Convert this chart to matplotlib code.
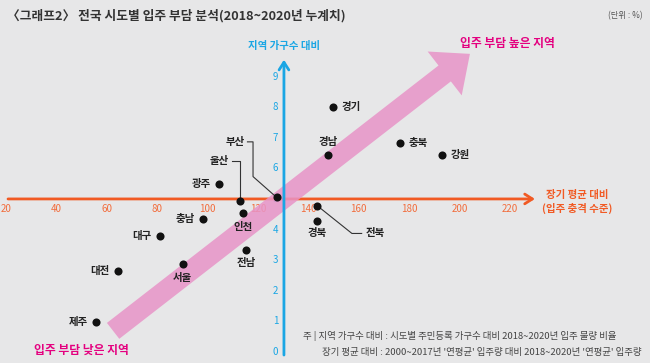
import matplotlib
matplotlib.use("Agg")
import matplotlib.pyplot as plt
import numpy as np
from matplotlib.patches import FancyArrowPatch

plt.rcParams['font.family'] = ['Noto Sans CJK KR', 'DejaVu Sans']

# ---- data ----
regions = ['경기', '경남', '충북', '강원', '광주', '울산', '부산', '인천',
           '전북', '경북', '전남', '충남', '대구', '서울', '대전', '제주']
long_term_ratio = [149.8, 147.8, 176.3, 193.0, 104.5, 112.9, 127.4, 114.2,
                   143.5, 143.5, 115.2, 98.3, 81.1, 90.1, 64.3, 55.7]
household_ratio = [8.0, 6.44, 6.83, 6.44, 5.49, 4.93, 5.05, 4.53,
                   4.78, 4.28, 3.33, 4.35, 3.8, 2.88, 2.65, 0.97]
x_ticks = [20, 40, 60, 80, 100, 120, 140, 160, 180, 200, 220]
y_ticks = [0, 1, 2, 3, 4, 5, 6, 7, 8, 9]
x_cross = 130.3   # where the vertical axis crosses
y_cross = 5.0     # where the horizontal axis crosses

title = '〈그래프2〉 전국 시도별 입주 부담 분석(2018~2020년 누계치)'
unit = '(단위 : %)'
y_label = '지역 가구수 대비'
x_label = '장기 평균 대비\n(입주 충격 수준)'
high_label = '입주 부담 높은 지역'
low_label = '입주 부담 낮은 지역'
notes = ['주 | 지역 가구수 대비 : 시도별 주민등록 가구수 대비 2018~2020년 입주 물량 비율',
         "장기 평균 대비 : 2000~2017년 '연평균' 입주량 대비 2018~2020년 '연평균' 입주량"]

# ---- style ----
BG = '#e7e7e8'
ORANGE = '#f15a24'
ORANGE_T = '#f26d3d'
BLUE = '#1aa6e4'
PINK = '#e894c7'
MAGENTA = '#e4007f'
DARK = '#222222'

W, H = 650, 363
fig = plt.figure(figsize=(W / 100, H / 100), dpi=100, facecolor=BG)
ax = fig.add_axes([0, 0, 1, 1])
ax.set_facecolor(BG)
ax.set_xlim(17.62, 275.56)
ax.set_ylim(-0.36, 11.50)
ax.axis('off')

# horizontal (orange) axis with open arrow head
ax.annotate('', xy=(229.9, y_cross), xytext=(20.8, y_cross),
            arrowprops=dict(arrowstyle='->,head_length=0.55,head_width=0.35',
                            color=ORANGE, lw=2.0, shrinkA=0, shrinkB=0),
            zorder=1)
# pink band arrow
band = FancyArrowPatch((62.5, 0.69), (204.1, 9.74),
                       arrowstyle='simple,head_length=23,head_width=40,tail_width=14.5',
                       mutation_scale=1, color=PINK, alpha=0.85, lw=0,
                       shrinkA=0, shrinkB=0, zorder=2)
ax.add_patch(band)
# vertical (blue) axis
ax.annotate('', xy=(x_cross, 9.55), xytext=(x_cross, -0.1),
            arrowprops=dict(arrowstyle='->,head_length=0.55,head_width=0.35',
                            color=BLUE, lw=2.0, shrinkA=0, shrinkB=0),
            zorder=3)

# tick labels
for xv in x_ticks:
    ax.annotate(str(xv), (xv, y_cross), xytext=(0, -7), textcoords='offset points',
                ha='center', va='center', fontsize=7, color=ORANGE_T, zorder=1)
for yv in y_ticks:
    ax.annotate(str(yv), (x_cross, yv), xytext=(-6, 0), textcoords='offset points',
                ha='center', va='center', fontsize=7, color=BLUE, zorder=1)

# points
ax.scatter(long_term_ratio, household_ratio, s=34, color='#111111', zorder=5, lw=0)

# label placement: (dx, dy) in points, ha
place = {
    '경기': (6, 0, 'left'), '경남': (0, 9, 'center'), '충북': (6, 0, 'left'),
    '강원': (6, 0, 'left'), '광주': (-6, 0, 'right'), '인천': (0, -10, 'center'),
    '전남': (0, -9, 'center'), '경북': (0, -9, 'center'), '충남': (-6, 0, 'right'),
    '대구': (-6, 0, 'right'), '서울': (0, -10, 'center'), '대전': (-6, 0, 'right'),
    '제주': (-6, 0, 'right'),
}
for name, xv, yv in zip(regions, long_term_ratio, household_ratio):
    if name in place:
        dx, dy, ha = place[name]
        ax.annotate(name, (xv, yv), xytext=(dx, dy), textcoords='offset points',
                    ha=ha, va='center', fontsize=7.5, fontweight='bold',
                    color=DARK, zorder=6)

# leader-line labels (bend points in points, relative to the dot)
lead = {'부산': [(-21, 40), (-17, 40), (-17, 15)],
        '울산': [(-6, 29), (0, 29)],
        '전북': [(25, -20), (32, -20)]}
inv = ax.transData.inverted()
for name, xv, yv in zip(regions, long_term_ratio, household_ratio):
    if name in lead:
        pts = lead[name]
        disp0 = ax.transData.transform((xv, yv))
        if name == '전북':
            seq = pts
        else:
            seq = pts[::-1]
        path = [disp0] + [disp0 + np.array(p) / 0.72 for p in seq]
        dpts = inv.transform(np.array(path))
        ax.plot(dpts[:, 0], dpts[:, 1], color='#333333', lw=0.8, zorder=4)
        if name == '전북':
            end = pts[-1]
            ax.annotate(name, (xv, yv), xytext=(end[0] + 3, end[1]), textcoords='offset points',
                        ha='left', va='center', fontsize=7.5, fontweight='bold',
                        color=DARK, zorder=6)
        else:
            end = pts[0]
            ax.annotate(name, (xv, yv), xytext=(end[0] - 2, end[1]), textcoords='offset points',
                        ha='right', va='center', fontsize=7.5, fontweight='bold',
                        color=DARK, zorder=6)

# axis titles
fig.text(284 / W, 1 - 46 / H, y_label, ha='center', va='center', fontsize=7.5,
         fontweight='bold', color=BLUE)
fig.text(577 / W, 1 - 202 / H, x_label, ha='center', va='center', fontsize=7.5,
         fontweight='bold', color=ORANGE, linespacing=1.25)
fig.text(507 / W, 1 - 43 / H, high_label, ha='center', va='center', fontsize=8.5,
         fontweight='bold', color=MAGENTA)
fig.text(81 / W, 1 - 350 / H, low_label, ha='center', va='center', fontsize=8.5,
         fontweight='bold', color=MAGENTA)

# title and unit
fig.text(7 / W, 1 - 16 / H, title, ha='left', va='center', fontsize=9.2,
         fontweight='bold', color='#333333')
fig.text(643 / W, 1 - 16 / H, unit, ha='right', va='center', fontsize=6,
         color='#555555')

# notes
fig.text(303 / W, 1 - 336 / H, notes[0], ha='left', va='center', fontsize=6.8,
         color='#444444')
fig.text(322 / W, 1 - 352 / H, notes[1], ha='left', va='center', fontsize=6.8,
         color='#444444')

fig.savefig('out.png', dpi=100, facecolor=BG)
